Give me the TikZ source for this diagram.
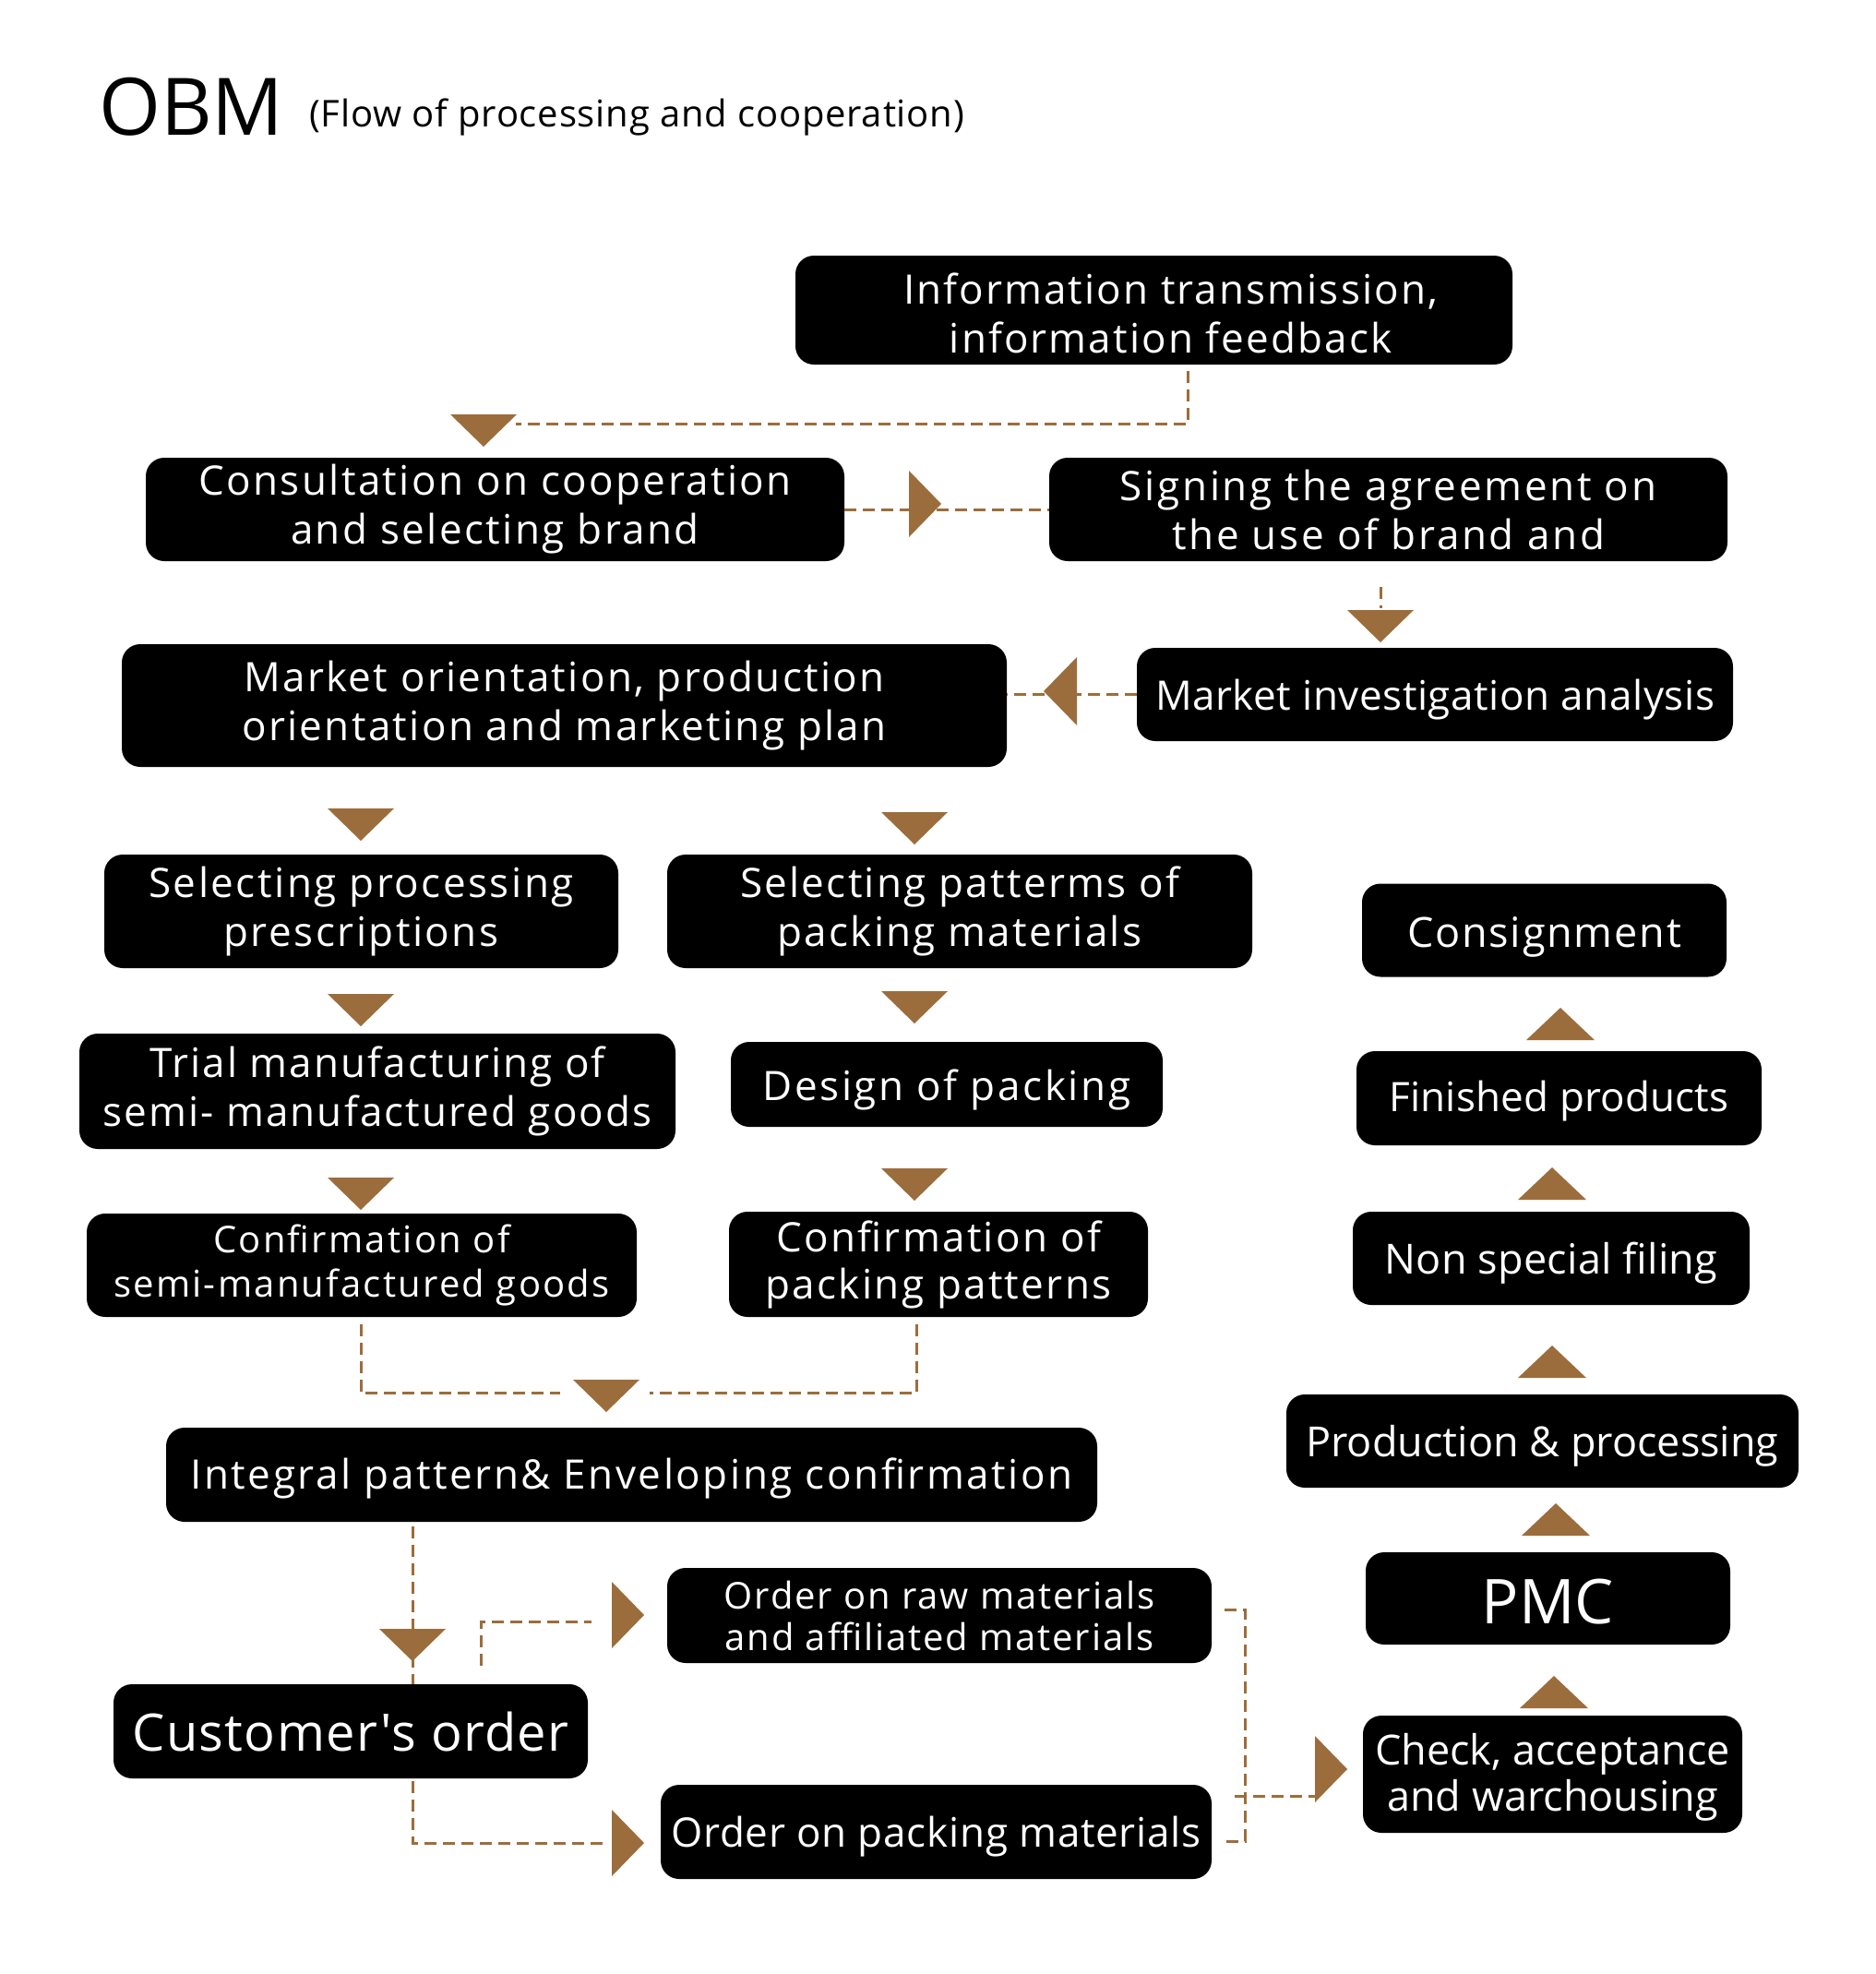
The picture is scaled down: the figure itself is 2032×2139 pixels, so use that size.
\documentclass[tikz,border=0pt]{standalone}
\usepackage{fontspec}
\setmainfont{Open Sans}
\newfontfamily\plainfont{Open Sans}
\usetikzlibrary{calc}
\definecolor{brn}{HTML}{9C6D3C}
\newcommand\txtf[3]{\fontsize{#1}{#2}\selectfont\addfontfeature{LetterSpace=#3}}
\newcommand\one[2][11pt]{\raisebox{0pt}[\dimexpr\height+#1\relax]{#2}}
\tikzset{
  box/.style={fill=black, rounded corners=20pt, text=white, inner sep=0pt, align=center},
  dline/.style={draw=brn, line width=3pt, dash pattern=on 13pt off 7pt},
  tridown/.pic={\fill[brn] (-36,-35) -- (36,-35) -- (0,0) -- cycle;},
  triup/.pic={\fill[brn] (-37,35) -- (37,35) -- (0,0) -- cycle;},
  triright/.pic={\fill[brn] (-35,-36) -- (-35,36) -- (0,0) -- cycle;},
  trileft/.pic={\fill[brn] (36,-37) -- (36,37) -- (0,0) -- cycle;},
}
\begin{document}
\begin{tikzpicture}[x=1pt,y=-1pt]
\useasboundingbox[fill=white] (0,0) rectangle (2032,2139);
% title
\node[anchor=base west, inner sep=0pt, font=\txtf{86}{90}{0}] (obm) at (107,146) {OBM};
\node[anchor=base west, inner sep=0pt, font=\txtf{40}{44}{2}] (sub) at (335,137) {(Flow of processing and cooperation)};
% boxes
\node[box, minimum width=777pt, minimum height=118pt, font=\txtf{44}{53}{4.8}] (info) at (1250.5,336) {\rule{0pt}{41pt}\hspace*{36pt}Information transmission,\\ \hspace*{36pt}information feedback};
\node[box, minimum width=757pt, minimum height=112pt, font=\txtf{44}{53}{5.5}] (consult) at (536.5,552) {Consultation on cooperation\\and selecting brand};
\node[box, minimum width=735pt, minimum height=112pt, font=\txtf{44}{53}{6.2}] (sign) at (1504.5,552) {Signing the agreement on\\the use of brand and};
\node[box, minimum width=959pt, minimum height=133pt, font=\txtf{44}{53}{5.3}] (mko) at (611.5,764.5) {Market orientation, production\\orientation and marketing plan};
\node[box, minimum width=646pt, minimum height=101pt, font=\txtf{44}{53}{1.3}] (mki) at (1555,752.5) {\one{Market investigation analysis}};
\node[box, minimum width=557pt, minimum height=123pt, font=\txtf{44}{53}{5.7}] (selproc) at (391.5,987.5) {Selecting processing\\prescriptions};
\node[box, minimum width=634pt, minimum height=123pt, font=\txtf{44}{53}{5.2}] (selpat) at (1040,987.5) {Selecting patterms of\\packing materials};
\node[box, minimum width=646pt, minimum height=125pt, font=\txtf{44}{53}{4.8}] (trial) at (409,1182.5) {Trial manufacturing of\\semi- manufactured goods};
\node[box, minimum width=468pt, minimum height=92pt, font=\txtf{44}{53}{6}] (design) at (1026,1175) {\one{Design of packing}};
\node[box, minimum width=596pt, minimum height=112pt, font=\txtf{40}{48}{5.6}] (confsemi) at (392,1371) {Confirmation of\\semi-manufactured goods};
\node[box, minimum width=454pt, minimum height=114pt, font=\txtf{44}{51}{5.3}] (confpack) at (1017,1370) {Confirmation of\\packing patterns};
\node[box, minimum width=1009pt, minimum height=102pt, font=\txtf{44}{53}{5.8}] (integral) at (684.5,1598) {\one[8pt]{Integral pattern\& Enveloping confirmation}};
\node[box, minimum width=590pt, minimum height=103pt, font=\txtf{40}{45}{4.7}] (orderraw) at (1018,1750.5) {Order on raw materials\\and affiliated materials};
\node[box, minimum width=514pt, minimum height=102pt, font=\plainfont\txtf{56}{64}{2.3}] (customer) at (380,1876) {Customer's order};
\node[box, minimum width=597pt, minimum height=102pt, font=\txtf{44}{53}{1.7}] (orderpack) at (1014.5,1985) {\one{Order on packing materials}};
\node[box, minimum width=395pt, minimum height=101pt, font=\txtf{45}{53}{4}] (consign) at (1673.5,1008) {\one[15pt]{Consignment}};
\node[box, minimum width=439pt, minimum height=102pt, font=\txtf{44}{53}{0.5}] (finished) at (1689.5,1190) {\one[6pt]{Finished products}};
\node[box, minimum width=430pt, minimum height=101pt, font=\txtf{45}{53}{0.5}] (nonspec) at (1681,1363.5) {\one{Non special filing}};
\node[box, minimum width=555pt, minimum height=101pt, font=\txtf{45}{53}{0}] (production) at (1671.5,1561.5) {\one{Production \& processing}};
\node[box, minimum width=395pt, minimum height=100pt, font=\txtf{67}{76}{0}] (pmc) at (1677.5,1732) {\one[8pt]{PMC}};
\node[box, minimum width=411pt, minimum height=127pt, font=\txtf{45}{50}{0}] (check) at (1682.5,1922.5) {\rule{0pt}{40pt}Check, acceptance\\ and warchousing};
% connectors
\draw[dline] ($(info.south)+(36.5,7)$) |- ($(consult.north)+(22.5,-36)$);
\pic at (524,484) {tridown};
\draw[dline] (consult.east) -- (sign.west);
\pic at (1020,546) {triright};
\draw[dline] ($(sign.south)+(-8.5,28)$) -- ($(sign.south)+(-8.5,51)$);
\pic at (1496,696) {tridown};
\draw[dline] (mki.west) -- (mko.east |- mki.west);
\pic at (1131,749) {trileft};
\pic at (391,911) {tridown};
\pic at (991,915) {tridown};
\pic at (391,1112) {tridown};
\pic at (991,1109) {tridown};
\pic at (391,1311) {tridown};
\pic at (991,1301) {tridown};
% merge
\draw[dline] ($(confsemi.south)+(-1,8)$) |- ($(integral.north)+(-77.5,-37)$);
\draw[dline] ($(confpack.south)+(-24,8)$) |- ($(integral.north)+(19.5,-37)$);
\pic at (657,1530) {tridown};
% integral -> customer
\draw[dline] ($(integral.south)+(-237.5,5)$) -- ($(customer.north)+(67,0)$);
\pic at (447,1800) {tridown};
% customer -> raw
\draw[dline] ($(customer.north)+(141,-20)$) |- ($(orderraw.west)+(-82,6.5)$);
\pic at (698,1750) {triright};
% customer -> pack
\draw[dline] ($(customer.south)+(67,3)$) |- ($(orderpack.west)+(-62,12)$);
\pic at (698,1997) {triright};
% orders -> check
\draw[dline] ($(orderraw.east)+(14,-6.5)$) -| ($(orderpack.east)+(36,10)$) -- ($(orderpack.east)+(14,10)$);
\draw[dline] ($(orderpack.east)+(25,-39)$) -- ($(check.west)+(-52,23.5)$);
\pic at (1460,1917) {triright};
% right column ups
\pic at (1684,1816) {triup};
\pic at (1686,1629) {triup};
\pic at (1682,1458) {triup};
\pic at (1682,1265) {triup};
\pic at (1691,1092) {triup};
\end{tikzpicture}
\end{document}
